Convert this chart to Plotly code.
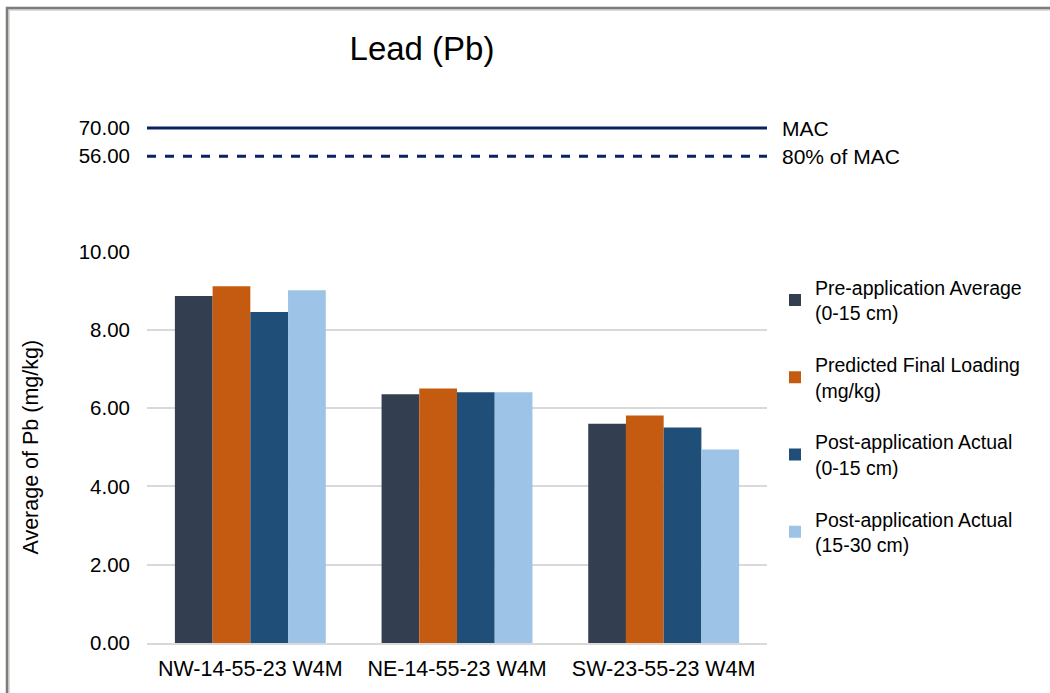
import plotly.graph_objects as go

# Sites (x categories)
sites = ["NW-14-55-23 W4M", "NE-14-55-23 W4M", "SW-23-55-23 W4M"]

# Lead concentrations (mg/kg) per series
pre_application = [8.86, 6.35, 5.60]
predicted_final = [9.11, 6.50, 5.81]
post_actual_0_15 = [8.45, 6.40, 5.50]
post_actual_15_30 = [9.01, 6.40, 4.94]

series_names = [
    "Pre-application Average<br>(0-15 cm)",
    "Predicted Final Loading<br>(mg/kg)",
    "Post-application Actual<br>(0-15 cm)",
    "Post-application Actual<br>(15-30 cm)",
]
series_values = [pre_application, predicted_final, post_actual_0_15, post_actual_15_30]
series_colors = ["#333F50", "#C55A11", "#1F4E79", "#9DC3E6"]

# Regulatory limits
mac_value = 70.0
mac80_value = 56.0

# Axis tick values
low_ticks = [0, 2, 4, 6, 8, 10]
high_ticks = [mac80_value, mac_value]

FONT = "Liberation Sans, Arial, sans-serif"

# Plot area geometry (pixels)
TOP, BOTTOM = 108, 44
PLOT_H = 693 - TOP - BOTTOM
LOW_H = 396          # height of the 0-10 panel
HIGH_BOTTOM = 472    # distance from plot bottom to the upper panel

fig = go.Figure()
for name, vals, col in zip(series_names, series_values, series_colors):
    fig.add_trace(go.Bar(
        x=sites, y=vals, name=name, legendgroup=name,
        marker=dict(color=col, line=dict(width=0)),
        yaxis="y",
    ))

# Reference lines on the upper (broken) axis
fig.add_shape(type="line", xref="x domain", x0=0, x1=1, yref="y2",
              y0=mac_value, y1=mac_value, line=dict(color="#0B2260", width=3))
fig.add_shape(type="line", xref="x domain", x0=0, x1=1, yref="y2",
              y0=mac80_value, y1=mac80_value,
              line=dict(color="#0B2260", width=3, dash="dash"))
fig.add_annotation(xref="x domain", x=1, yref="y2", y=mac_value, text="MAC",
                   showarrow=False, xanchor="left", xshift=13,
                   font=dict(family=FONT, size=21, color="#000000"))
fig.add_annotation(xref="x domain", x=1, yref="y2", y=mac80_value, text="80% of MAC",
                   showarrow=False, xanchor="left", xshift=13,
                   font=dict(family=FONT, size=21, color="#000000"))

# Outer chart frame
fig.add_shape(type="rect", xref="paper", yref="paper",
              x0=(9 - 147) / 620, x1=3, y0=-2, y1=(693 - BOTTOM - 9) / PLOT_H,
              line=dict(color="#DCDCDC", width=2), fillcolor="rgba(0,0,0,0)")
fig.add_shape(type="rect", xref="paper", yref="paper",
              x0=(7 - 147) / 620, x1=3, y0=-2, y1=(693 - BOTTOM - 7) / PLOT_H,
              line=dict(color="#7F7B78", width=2.5), fillcolor="rgba(0,0,0,0)")

fig.update_layout(
    width=1050, height=693,
    margin=dict(l=147, r=283, t=TOP, b=BOTTOM),
    paper_bgcolor="white", plot_bgcolor="white",
    barmode="group", bargap=0.27, bargroupgap=0,
    font=dict(family=FONT, size=20, color="#000000"),
    title=dict(text="Lead (Pb)", x=422 / 1050, xanchor="center",
               xref="container", y=1 - 48 / 693, yanchor="middle", yref="container",
               font=dict(family=FONT, size=33, color="#000000")),
    xaxis=dict(
        type="category", showgrid=False, zeroline=False,
        showline=True, linecolor="#D9D9D9", linewidth=1.5,
        ticks="", ticklabelstandoff=5,
        tickfont=dict(family=FONT, size=21.5, color="#000000"),
    ),
    yaxis=dict(
        domain=[0, LOW_H / PLOT_H], range=[0, 10],
        tickvals=low_ticks, tickformat=".2f",
        showgrid=True, gridcolor="#D9D9D9", gridwidth=1.5,
        zeroline=False, showline=False, ticks="", ticklabelstandoff=16,
        tickfont=dict(family=FONT, size=20.5, color="#000000"),
        title=dict(text="Average of Pb (mg/kg)", standoff=34,
                   font=dict(family=FONT, size=21.5, color="#000000")),
    ),
    yaxis2=dict(
        domain=[HIGH_BOTTOM / PLOT_H, 1], range=[46, 80],
        tickvals=high_ticks, ticktext=[f"{v:.2f}" for v in high_ticks],
        showgrid=False, zeroline=False, showline=False, ticks="",
        ticklabelstandoff=16, anchor="x",
        tickfont=dict(family=FONT, size=20.5, color="#000000"),
    ),
    legend=dict(
        x=(775 - 147) / 620, xanchor="left", y=(693 - BOTTOM - 270) / PLOT_H, yanchor="top",
        traceorder="grouped", tracegroupgap=23.5,
        font=dict(family=FONT, size=19.5, color="#000000"),
        bgcolor="rgba(0,0,0,0)",
    ),
    showlegend=True,
)

fig.write_html("out.html")
